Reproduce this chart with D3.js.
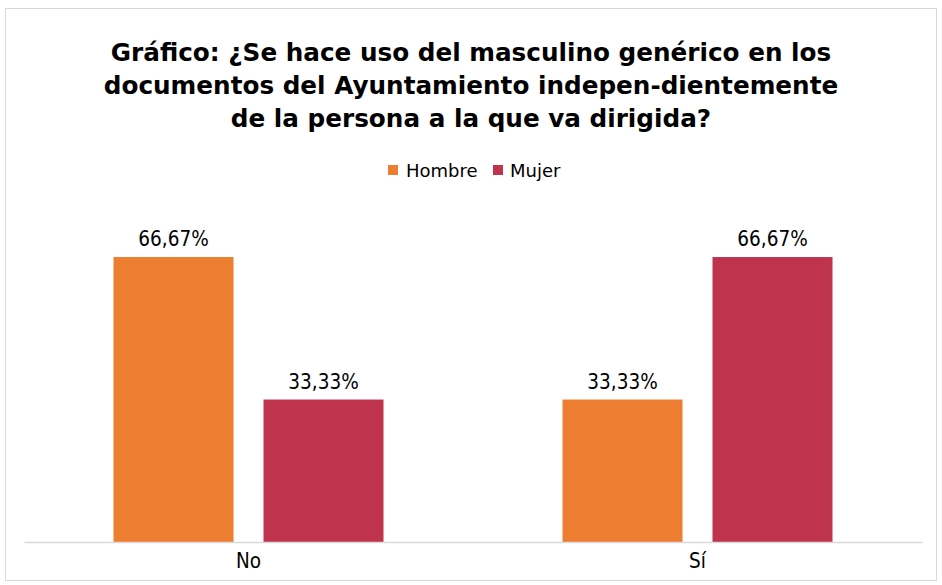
<!DOCTYPE html>
<html>
<head>
<meta charset="utf-8">
<script src="https://cdn.jsdelivr.net/npm/d3@7"></script>
<style>
  html, body { margin: 0; padding: 0; background: #fff; }
  svg { display: block; }
  text { font-family: "DejaVu Sans", sans-serif; }
  .cond { font-family: "DejaVu Sans Condensed", "DejaVu Sans", sans-serif; font-stretch: condensed; }
</style>
</head>
<body>
<svg id="chart" width="942" height="585"></svg>
<script>
// Survey answers by category, share per gender
const categories = ["No", "Sí"];
const seriesNames = ["Hombre", "Mujer"];
const hombreValues = [0.6667, 0.3333];
const mujerValues = [0.3333, 0.6667];
const seriesColors = ["#ED7D31", "#C0334D"];
const titleLines = [
  "Gráfico: ¿Se hace uso del masculino genérico en los",
  "documentos del Ayuntamiento indepen-dientemente",
  "de la persona a la que va dirigida?"
];

const svg = d3.select("#chart");

// outer frame
svg.append("rect")
  .attr("x", 5.5).attr("y", 8.5)
  .attr("width", 931).attr("height", 572)
  .attr("fill", "#fff").attr("stroke", "#d9d9d9").attr("stroke-width", 1);

// title
const title = svg.append("text")
  .attr("text-anchor", "middle")
  .attr("font-weight", "bold")
  .attr("font-size", 24.7)
  .attr("fill", "#000");
titleLines.forEach((line, i) => {
  title.append("tspan").attr("x", 471).attr("y", 61 + i * 33).text(line);
});

// legend
const legend = svg.append("g");
const legendItems = [{ x: 388, tx: 406 }, { x: 493, tx: 510 }];
seriesNames.forEach((name, i) => {
  legend.append("rect")
    .attr("x", legendItems[i].x).attr("y", 165)
    .attr("width", 10).attr("height", 10)
    .attr("fill", seriesColors[i]);
  legend.append("text")
    .attr("x", legendItems[i].tx).attr("y", 177)
    .attr("font-size", 18).attr("fill", "#000")
    .text(name);
});

// scales
const x0 = d3.scaleBand().domain(categories).range([24, 922]).paddingInner(0).paddingOuter(0);
const x1 = d3.scaleBand().domain(seriesNames).range([-135, 135]).paddingInner(0.2).paddingOuter(0);
const y = d3.scaleLinear().domain([0, 0.7]).range([542, 242.8]);

const rows = categories.map((c, i) => ({
  category: c,
  values: [
    { series: "Hombre", value: hombreValues[i], color: seriesColors[0] },
    { series: "Mujer", value: mujerValues[i], color: seriesColors[1] }
  ]
}));

const fmt = v => (v * 100).toFixed(2).replace(".", ",") + "%";

const groups = svg.append("g").selectAll("g")
  .data(rows).join("g")
  .attr("transform", d => `translate(${x0(d.category) + x0.bandwidth() / 2},0)`);

groups.selectAll("rect")
  .data(d => d.values).join("rect")
  .attr("x", d => x1(d.series))
  .attr("width", x1.bandwidth())
  .attr("y", d => y(d.value))
  .attr("height", d => y(0) - y(d.value))
  .attr("fill", d => d.color);

groups.selectAll("text.val")
  .data(d => d.values).join("text")
  .attr("class", "val cond")
  .attr("x", d => x1(d.series) + x1.bandwidth() / 2)
  .attr("y", d => y(d.value) - 11)
  .attr("text-anchor", "middle")
  .attr("font-size", 20.5)
  .attr("fill", "#000")
  .text(d => fmt(d.value));

// category axis
const axis = svg.append("g")
  .attr("transform", `translate(0,${y(0)})`)
  .call(d3.axisBottom(x0).tickSize(0).tickPadding(11));
axis.select(".domain").attr("stroke", "#d9d9d9").attr("stroke-width", 1.5);
axis.selectAll("text")
  .attr("class", "cond")
  .attr("font-size", 20.5)
  .attr("fill", "#000")
  .attr("font-family", null);
</script>
</body>
</html>
